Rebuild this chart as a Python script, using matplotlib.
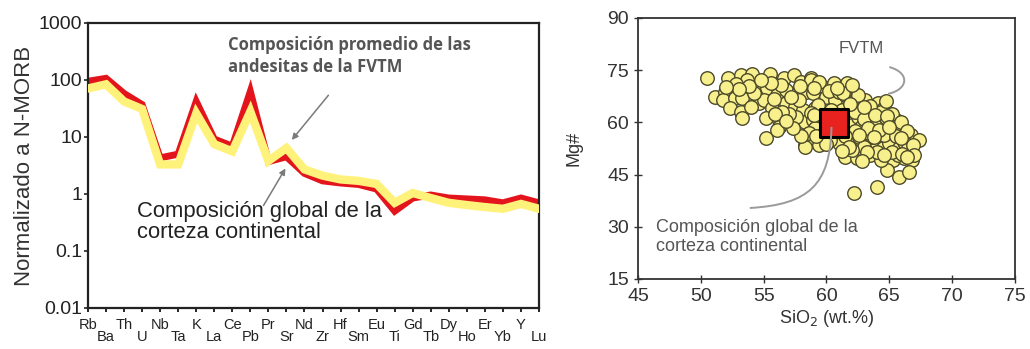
import matplotlib
matplotlib.use("Agg")
import matplotlib.pyplot as plt
from matplotlib.path import Path
from matplotlib.patches import PathPatch
import numpy as np

plt.rcParams['font.family'] = ['Liberation Sans', 'DejaVu Sans']

# --- spider diagram (normalised to N-MORB) ---
elements = ["Rb", "Ba", "Th", "U", "Nb", "Ta", "K", "La", "Ce", "Pb", "Pr", "Sr", "Nd",
            "Zr", "Hf", "Sm", "Eu", "Ti", "Gd", "Tb", "Dy", "Ho", "Er", "Yb", "Y", "Lu"]
crust = [95, 107, 58, 37, 4.3, 5.0, 42, 9.2, 6.9, 63, 3.7, 4.5, 2.3,
         1.7, 1.56, 1.47, 1.22, 0.50, 0.85, 0.96, 0.85, 0.82, 0.79, 0.70, 0.85, 0.70]
fvtm = [71, 84, 42, 31, 3.3, 3.3, 26, 7.5, 5.6, 28, 3.8, 6.4, 2.7,
        2.1, 1.8, 1.7, 1.5, 0.70, 1.04, 0.85, 0.70, 0.64, 0.59, 0.55, 0.67, 0.55]
yticks = [0.01, 0.1, 1, 10, 100, 1000]
ytick_labels = ["0.01", "0.1", "1", "10", "100", "1000"]

# --- Mg# vs SiO2 for FVTM andesites ---
sio2 = [50.5, 52.2, 53.2, 54.1, 55.5, 56.6, 57.4, 58.0, 58.8, 53.7, 54.6, 55.3, 56.1,
        56.8, 57.7, 58.4, 51.1, 51.9, 51.8, 52.7, 53.3, 52.3, 53.2, 53.3, 54.6, 55.0,
        55.7, 55.2, 56.2, 56.2, 56.8, 57.5, 58.1, 58.0, 58.3, 59.1, 55.2, 58.3, 58.9,
        58.8, 59.7, 60.6, 61.6, 62.0, 58.9, 60.0, 60.7, 61.5, 62.2, 63.1, 64.1, 64.6,
        59.3, 58.8, 58.9, 59.1, 61.9, 62.7, 63.6, 64.5, 65.5, 62.0, 62.9, 64.0, 64.9,
        65.8, 66.7, 67.4, 61.9, 62.9, 64.0, 64.9, 65.3, 59.4, 61.0, 61.5, 62.4, 62.7,
        63.5, 63.7, 64.5, 64.8, 65.3, 65.0, 65.8, 66.2, 66.8, 64.8, 65.8, 66.6, 64.0,
        62.2, 63.6, 62.6, 65.7, 64.3, 56.1, 58.3, 62.5, 63.2, 63.8, 64.3, 65.2, 65.6,
        66.0, 62.8, 63.4, 64.6, 65.5, 66.2, 66.5, 63.0, 62.0, 64.0, 65.2, 66.0, 62.3,
        61.5, 60.3, 59.8, 58.6, 57.6, 57.0, 56.5, 55.8, 54.2, 53.8, 52.8, 56.4, 57.9,
        59.4, 60.2, 61.0, 62.5, 63.5, 61.2, 59.0, 55.9, 54.0, 60.6, 61.3,
        62.3, 63.0, 63.9, 64.8, 65.9, 66.4, 63.3, 64.2, 65.0, 62.6, 63.8, 65.9, 66.9,
        67.0, 66.4, 64.6, 63.2, 62.8, 61.8, 61.2, 60.0, 59.2, 58.0, 57.3, 56.8, 57.8,
        59.0, 60.8, 62.0, 63.0, 64.7, 61.9, 60.4, 57.2, 55.6, 54.8, 53.0, 52.0]
mg_number = [72.7, 72.7, 73.6, 73.9, 73.9, 72.7, 73.6, 71.7, 72.7, 72.2, 69.8, 69.8, 67.9,
             69.3, 68.4, 68.8, 67.4, 68.8, 66.4, 66.9, 66.9, 64.0, 63.1, 61.2, 65.5, 66.4,
             64.0, 61.2, 60.7, 58.8, 65.5, 64.5, 63.6, 58.8, 60.2, 64.0, 55.4, 53.5, 55.4,
             72.2, 70.3, 71.2, 71.2, 69.3, 68.4, 67.4, 66.4, 67.9, 66.0, 66.4, 65.5, 64.0,
             65.0, 62.6, 60.7, 58.3, 62.6, 63.6, 60.7, 61.2, 60.7, 59.3, 57.8, 58.3, 57.8,
             57.8, 56.4, 54.9, 55.4, 54.9, 54.9, 55.4, 54.0, 53.5, 54.0, 50.1, 49.7, 52.6,
             50.6, 54.0, 52.6, 49.7, 49.2, 54.0, 52.6, 49.7, 49.2, 46.3, 44.4, 45.8, 41.5,
             39.6, 55.9, 55.9, 50.6, 49.2, 57.8, 53.0, 61.5, 62.5, 59.5, 63.0, 62.5, 59.0,
             58.5, 59.0, 57.0, 56.5, 56.0, 54.5, 52.5, 53.0, 52.0, 51.5, 51.5, 51.0, 57.5,
             56.0, 55.0, 57.0, 57.0, 61.5, 62.5, 63.0, 66.8, 68.5, 70.5, 71.0, 70.8, 70.5,
             71.5, 69.0, 68.8, 68.0, 64.8, 63.5, 62.0, 62.5, 64.5, 60.8, 68.3,
             63.0, 61.0, 62.0, 61.8, 60.0, 57.5, 58.5, 57.8, 58.8, 56.5, 55.8, 55.5, 53.5,
             50.5, 50.0, 50.5, 51.5, 49.0, 53.0, 51.8, 53.8, 56.0, 56.0, 58.5, 60.5, 66.5,
             69.8, 70.0, 70.8, 64.5, 66.0, 65.2, 63.5, 67.2, 71.4, 72.3, 69.5, 70.2]
crust_sio2 = [60.6]
crust_mg = [59.8]
xticks_r = [45, 50, 55, 60, 65, 70, 75]
yticks_r = [15, 30, 45, 60, 75, 90]

RED = '#e3141c'
YELLOW = '#fff27a'
GRAY_TXT = '#555555'

fig = plt.figure(figsize=(10.30, 3.49), dpi=100)

# ---------------- left panel ----------------
ax1 = fig.add_axes([0.0854, 0.1175, 0.4379, 0.8166])
x = np.arange(len(elements))
ax1.plot(x, crust, color=RED, lw=5.0, solid_joinstyle='miter', zorder=2)
ax1.plot(x, fvtm, color=YELLOW, lw=6.0, solid_joinstyle='miter', zorder=3)
ax1.set_yscale('log')
ax1.set_ylim(0.01, 1000)
ax1.set_xlim(0, len(elements) - 1)
ax1.set_yticks(yticks)
ax1.set_yticklabels(ytick_labels)
ax1.minorticks_off()
ax1.set_xticks(x)
ax1.set_xticklabels([e if i % 2 == 0 else "\n" + e for i, e in enumerate(elements)],
                    fontsize=10.5, color='#222222', linespacing=0.8)
ax1.tick_params(axis='y', labelsize=14, colors='#222222', length=3, width=1.2, pad=1)
ax1.tick_params(axis='x', length=3, width=1.2, pad=4)
ax1.set_ylabel("Normalizado a N-MORB", fontsize=16, color='#333333', labelpad=3)
for s in ax1.spines.values():
    s.set_linewidth(1.6)
    s.set_color('#222222')

ax1.text(0.31, 0.955, "Composición promedio de las\nandesitas de la FVTM",
         transform=ax1.transAxes, family=['Open Sans', 'DejaVu Sans'], fontweight='bold',
         fontsize=12, color=GRAY_TXT, ha='left', va='top', linespacing=1.3)
ax1.annotate("", xy=(0.448, 0.582), xytext=(0.537, 0.754), xycoords='axes fraction',
             arrowprops=dict(arrowstyle='-|>', color='#7a7a7a', lw=1.1, mutation_scale=9))
ax1.text(0.108, 0.30, "Composición global de la\ncorteza continental",
         transform=ax1.transAxes, fontsize=15.8, color='#222222', ha='left', va='center',
         linespacing=1.0)
ax1.annotate("", xy=(0.441, 0.498), xytext=(0.386, 0.351), xycoords='axes fraction',
             arrowprops=dict(arrowstyle='-|>', color='#7a7a7a', lw=1.1, mutation_scale=9))

# ---------------- right panel ----------------
ax2 = fig.add_axes([0.6194, 0.2006, 0.366, 0.7479])
ax2.scatter(sio2, mg_number, s=95, facecolor='#f7f08c', edgecolor='#4d4a2a',
            linewidth=1.0, zorder=3)
ax2.scatter(crust_sio2, crust_mg, s=380, marker='s', facecolor='#e8221f',
            edgecolor='black', linewidth=2.2, zorder=4)
ax2.set_xlim(45, 75)
ax2.set_ylim(15, 90)
ax2.set_xticks(xticks_r)
ax2.set_yticks(yticks_r)
ax2.tick_params(direction='inout', length=6, width=1.0, labelsize=14, colors='#333333')
ax2.set_xlabel("SiO$_2$ (wt.%)", fontsize=13, color='#333333', labelpad=2)
ax2.set_ylabel("Mg#", fontsize=13, color='#333333', labelpad=18)
for s in ax2.spines.values():
    s.set_linewidth(1.3)
    s.set_color('#333333')

ax2.text(62.8, 81.2, "FVTM", fontsize=12, color=GRAY_TXT, ha='center', va='center')
fvtm_leader = Path([(65.0, 75.9), (66.7, 74.2), (66.5, 69.4), (64.9, 68.2)],
                   [Path.MOVETO, Path.CURVE4, Path.CURVE4, Path.CURVE4])
ax2.add_patch(PathPatch(fvtm_leader, fc='none', ec='#9a9a9a', lw=1.4, zorder=5))
crust_leader = Path([(53.9, 35.4), (58.6, 36.4), (60.3, 42.0), (60.4, 58.7)],
                    [Path.MOVETO, Path.CURVE4, Path.CURVE4, Path.CURVE4])
ax2.add_patch(PathPatch(crust_leader, fc='none', ec='#9a9a9a', lw=1.4, zorder=5))
ax2.text(46.4, 27.0, "Composición global de la\ncorteza continental", fontsize=13,
         color=GRAY_TXT, ha='left', va='center', linespacing=1.15)

fig.savefig("out.png", dpi=100)
